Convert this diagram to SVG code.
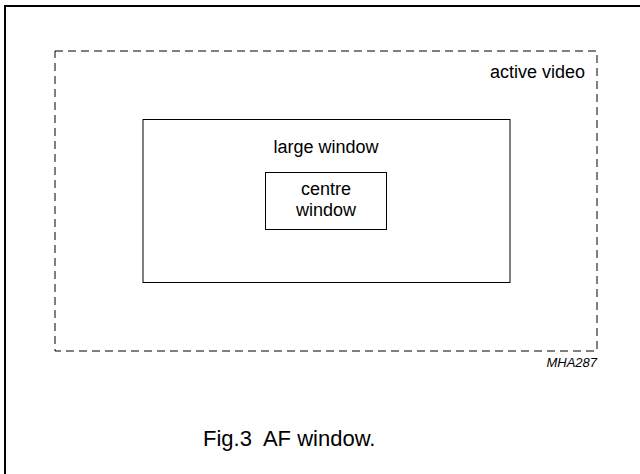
<svg xmlns="http://www.w3.org/2000/svg" width="640" height="474" viewBox="0 0 640 474">
<style>
.t{font-family:"Liberation Sans",Arial,sans-serif;fill:#000}
.box{fill:none;stroke:#000;stroke-width:1}
.lbl{font-size:18px}
</style>
<rect width="640" height="474" fill="#fff"/>
<rect id="frame" x="5" y="6" width="640" height="480" fill="none" stroke="#000" stroke-width="2"/>
<g id="active-video">
<rect x="55" y="51" width="542" height="300" fill="none" stroke="#000" stroke-width="1" stroke-dasharray="8,5"/>
<text class="t lbl" x="585" y="78" text-anchor="end">active video</text>
</g>
<g id="large-window">
<rect class="box" x="143" y="119.5" width="367" height="163"/>
<text class="t lbl" x="326" y="153" text-anchor="middle">large window</text>
</g>
<g id="centre-window">
<rect class="box" x="265.5" y="172.5" width="121" height="57"/>
<text class="t lbl" x="326" y="195" text-anchor="middle">centre</text>
<text class="t lbl" x="326" y="216" text-anchor="middle">window</text>
</g>
<g id="connectors"></g>
<text class="t" x="597" y="367" font-size="13" font-style="italic" text-anchor="end">MHA287</text>
<text class="t" x="203" y="446" font-size="22" xml:space="preserve" style="white-space:pre">Fig.3  AF window.</text>
</svg>
